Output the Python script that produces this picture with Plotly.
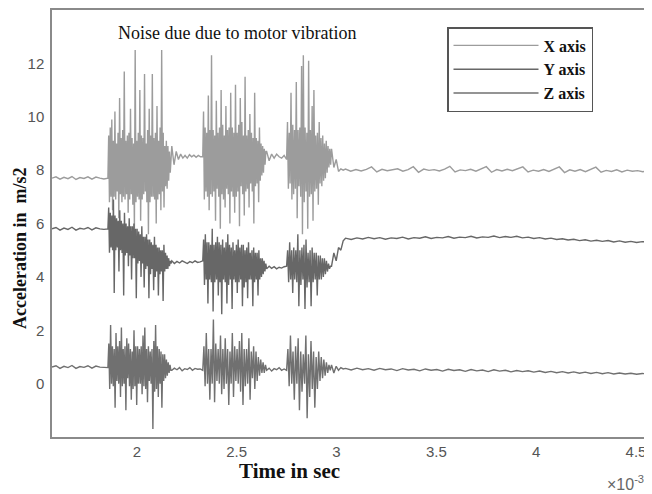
import numpy as np
import plotly.graph_objects as go

# ---- time segment boundaries (seconds) ----
seg_bounds = [1.575e-3, 1.855e-3, 2.175e-3, 2.33e-3, 2.65e-3, 2.75e-3, 2.975e-3, 3.045e-3, 4.56e-3]

# ---- X axis series (m/s^2) ----
x_pre = [7.70, 7.75, 7.66, 7.73, 7.68, 7.76, 7.65, 7.72, 7.69, 7.75, 7.66, 7.74, 7.70, 7.67]
x_b1 = [7.7, 9.3, 6.8, 9.6, 7.0, 9.9, 6.5, 9.1, 7.0, 10.2, 6.9, 9.0, 7.2, 9.4, 6.2, 10.7, 7.1, 9.2,
        6.8, 9.5, 7.0, 11.7, 6.9, 9.1, 7.1, 9.3, 6.4, 9.4, 6.9, 10.3, 7.1, 9.2, 6.7, 9.0, 5.8, 12.5,
        6.8, 9.1, 7.0, 9.4, 6.9, 11.0, 6.1, 9.3, 6.9, 9.2, 7.1, 11.6, 7.2, 9.0, 6.8, 9.5, 5.6, 10.3,
        6.8, 9.3, 7.0, 11.6, 7.0, 9.2, 6.9, 9.4, 6.0, 10.4, 6.9, 9.1, 7.1, 9.6, 6.5, 12.5, 7.2, 9.4,
        6.6, 8.9, 7.4, 9.1, 7.3, 8.9, 7.6, 8.7, 7.9, 8.6]
x_q1 = [8.9, 8.2, 8.7, 8.4, 8.6, 8.45, 8.55, 8.45, 8.58, 8.5, 8.56, 8.48, 8.55, 8.5]
x_b2 = [8.5, 10.2, 6.9, 9.6, 7.2, 9.4, 7.0, 10.8, 6.5, 9.5, 7.1, 12.3, 7.0, 9.5, 7.2, 9.3, 6.1, 10.6,
        7.3, 9.4, 7.0, 9.6, 5.8, 11.0, 7.1, 9.7, 6.9, 9.3, 6.6, 10.4, 7.3, 9.5, 7.1, 9.6, 6.0, 10.9,
        7.2, 9.6, 7.0, 9.4, 6.4, 11.2, 7.0, 9.4, 7.2, 9.7, 5.9, 10.7, 7.4, 9.8, 7.1, 9.3, 6.3, 11.5,
        7.2, 9.3, 7.3, 9.5, 6.6, 10.1, 7.5, 9.4, 7.2, 9.2, 6.0, 10.9, 7.4, 9.2, 7.5, 9.1, 6.8, 9.6,
        7.6, 9.0, 7.8, 8.9, 7.9, 8.8, 8.2, 8.7]
x_q2 = [8.7, 8.35, 8.6, 8.45, 8.6, 8.5, 8.45, 8.55]
x_b3 = [8.4, 9.8, 7.3, 9.4, 7.5, 10.9, 6.9, 9.7, 7.1, 9.5, 7.3, 11.3, 6.2, 9.5, 7.4, 9.6, 7.0, 11.9,
        5.6, 12.3, 6.8, 9.6, 7.2, 9.4, 5.8, 12.1, 7.0, 9.5, 7.1, 10.4, 6.1, 11.0, 7.2, 9.3, 7.3, 9.4,
        6.7, 9.8, 7.5, 9.2, 7.4, 9.3, 7.6, 9.0, 7.7, 9.1, 7.9, 8.9, 8.1, 8.8, 8.2]
x_tr = [8.8, 8.1, 8.4, 7.95, 8.05, 8.0]
x_post = [8.04, 7.96, 8.02, 7.97, 8.03, 8.12, 7.93, 8.03, 7.98, 8.01, 8.05, 7.96, 8.02, 8.13, 7.92,
          8.04, 7.99, 8.02, 7.97, 8.04, 8.14, 7.93, 8.01, 7.98, 8.03, 7.96, 8.03, 8.13, 7.92, 8.02,
          7.97, 8.03, 7.98, 8.04, 8.12, 7.93, 8.00, 7.96, 8.02, 7.95, 8.03, 8.12, 7.91, 8.01, 7.96,
          8.02, 7.94, 8.01, 8.11, 7.92, 7.99, 7.95, 8.01, 7.93, 8.00, 7.96, 7.98, 7.94, 7.97]

# ---- Y axis series ----
y_pre = [5.80, 5.85, 5.75, 5.83, 5.78, 5.86, 5.75, 5.82, 5.79, 5.85, 5.76, 5.84, 5.80, 5.78]
y_b1 = [5.8, 6.6, 4.9, 6.4, 5.1, 6.3, 5.0, 6.9, 3.4, 6.3, 5.0, 6.2, 5.1, 6.1, 4.2, 6.5, 5.0, 6.1,
        4.9, 6.0, 3.3, 6.4, 4.8, 6.0, 4.9, 5.9, 4.4, 6.2, 4.8, 5.9, 3.9, 5.9, 4.7, 6.0, 4.7, 5.8,
        3.2, 5.8, 4.5, 5.7, 4.6, 5.6, 4.0, 5.9, 4.5, 5.5, 3.6, 5.5, 4.3, 5.6, 4.4, 5.4, 3.2, 5.4,
        4.1, 5.3, 4.3, 5.2, 3.5, 5.5, 4.0, 5.2, 4.2, 5.1, 3.3, 5.1, 4.1, 5.0, 4.2, 5.0, 3.1, 5.2,
        4.2, 4.9, 4.3, 4.8, 4.3, 4.7, 4.4, 4.6, 4.5]
y_q1 = [4.6, 4.5, 4.58, 4.52, 4.6, 4.55, 4.5, 4.57, 4.53, 4.6, 4.54, 4.56]
y_b2 = [4.6, 5.4, 3.7, 5.6, 3.9, 5.3, 3.0, 5.3, 3.9, 5.2, 3.8, 5.8, 2.7, 5.2, 3.8, 5.3, 3.9, 5.5,
        3.3, 5.3, 3.8, 5.2, 2.6, 5.4, 3.9, 5.1, 3.8, 5.3, 3.0, 5.6, 3.7, 5.2, 3.9, 5.1, 2.8, 5.3,
        3.9, 5.0, 3.8, 5.2, 3.4, 5.4, 3.8, 5.1, 3.9, 5.2, 2.9, 5.2, 3.6, 5.0, 3.8, 5.1, 3.2, 5.3,
        3.9, 4.9, 3.9, 5.0, 2.9, 5.1, 3.8, 4.9, 3.9, 4.9, 3.3, 5.0, 3.9, 4.7, 4.0, 4.7, 4.1, 4.6,
        4.2, 4.5]
y_q2 = [4.3, 4.4, 4.32, 4.38, 4.3, 4.36, 4.33, 4.38]
y_b3 = [4.4, 5.0, 3.8, 5.3, 3.9, 5.0, 3.4, 5.1, 3.9, 5.0, 3.8, 5.6, 2.9, 5.0, 3.7, 5.1, 3.9, 5.2,
        2.8, 5.4, 3.6, 4.9, 3.8, 5.0, 2.9, 5.1, 3.8, 4.9, 3.9, 4.9, 3.3, 4.8, 3.9, 4.8, 3.9, 4.7,
        4.0, 4.7, 4.1, 4.6, 4.2, 4.5, 4.3, 4.4]
y_tr = [4.4, 4.9, 4.6, 5.1, 5.0, 5.35]
y_post = [5.45, 5.40, 5.46, 5.42, 5.48, 5.43, 5.47, 5.41, 5.46, 5.44, 5.49, 5.42, 5.47, 5.45, 5.50,
          5.44, 5.48, 5.46, 5.51, 5.45, 5.49, 5.47, 5.52, 5.46, 5.50, 5.48, 5.53, 5.47, 5.51, 5.48,
          5.52, 5.46, 5.49, 5.44, 5.47, 5.42, 5.45, 5.40, 5.43, 5.38, 5.41, 5.36, 5.39, 5.34, 5.37,
          5.33, 5.36, 5.31, 5.35, 5.30, 5.33, 5.29, 5.32, 5.30]

# ---- Z axis series ----
z_pre = [0.62, 0.67, 0.57, 0.65, 0.60, 0.68, 0.57, 0.64, 0.61, 0.67, 0.58, 0.66, 0.62, 0.60]
z_b1 = [0.6, 1.5, -0.2, 2.2, 0.0, 1.4, -0.1, 1.3, -0.9, 1.9, 0.1, 1.4, 0.0, 1.6, -0.5, 2.1, -0.1, 1.3,
        0.0, 1.4, -1.0, 1.7, 0.2, 1.5, -0.1, 1.3, -0.6, 1.2, -0.2, 2.0, -0.1, 1.4, -0.8, 1.4, 0.0, 1.3,
        0.0, 1.4, -0.4, 1.8, -0.1, 2.1, -0.2, 1.3, -0.7, 1.4, 0.1, 1.2, 0.0, 1.3, -1.7, 1.6, -0.3, 2.2,
        -0.2, 1.4, -0.5, 1.3, 0.0, 1.2, -0.9, 1.1, 0.1, 1.1, 0.2, 0.9, 0.3, 0.8, 0.4, 0.7, 0.5]
z_q1 = [0.50, 0.58, 0.52, 0.60, 0.48, 0.56, 0.53, 0.60, 0.50, 0.57, 0.54, 0.55]
z_b2 = [0.5, 1.4, -0.1, 1.9, 0.0, 1.3, -0.6, 1.3, 0.0, 2.4, -0.7, 1.5, 0.1, 1.3, 0.0, 1.8, -0.4, 1.3,
        -0.2, 1.7, 0.0, 1.3, -0.8, 1.2, 0.0, 1.9, -0.5, 1.4, 0.1, 1.3, 0.0, 1.6, -0.3, 1.9, -0.8, 1.3,
        -0.1, 1.3, 0.0, 1.7, -0.6, 1.2, 0.2, 1.4, -0.2, 1.2, 0.1, 1.0, 0.3, 0.9, 0.4, 0.8, 0.4, 0.7]
z_q2 = [0.50, 0.58, 0.47, 0.56, 0.52, 0.60, 0.50, 0.55]
z_b3 = [0.5, 1.3, -0.1, 1.8, 0.0, 1.2, -0.6, 1.4, 0.0, 1.7, -1.0, 1.2, -0.3, 1.1, 0.0, 1.8, -1.3, 1.1,
        -0.5, 1.6, -0.2, 1.2, -0.9, 1.0, -0.2, 1.2, 0.1, 1.0, 0.2, 0.9, 0.3, 0.8, 0.4, 0.7, 0.5]
z_tr = [0.7, 0.4, 0.65, 0.5, 0.6, 0.55]
z_post = [0.57, 0.51, 0.58, 0.52, 0.56, 0.50, 0.57, 0.52, 0.55, 0.49, 0.56, 0.51, 0.54, 0.48, 0.55,
          0.50, 0.53, 0.47, 0.54, 0.49, 0.52, 0.46, 0.53, 0.48, 0.51, 0.45, 0.52, 0.47, 0.50, 0.44,
          0.49, 0.45, 0.48, 0.43, 0.47, 0.42, 0.46, 0.41, 0.45, 0.40, 0.44, 0.39, 0.43, 0.38, 0.42,
          0.37, 0.41, 0.36, 0.40, 0.36, 0.39, 0.35, 0.38, 0.36]

series_names = ["X axis", "Y axis", "Z axis"]
series_segments = [
    [x_pre, x_b1, x_q1, x_b2, x_q2, x_b3, x_tr, x_post],
    [y_pre, y_b1, y_q1, y_b2, y_q2, y_b3, y_tr, y_post],
    [z_pre, z_b1, z_q1, z_b2, z_q2, z_b3, z_tr, z_post],
]
series_colors = ["#9c9c9c", "#676767", "#707070"]

x_tickvals = [0.002, 0.0025, 0.003, 0.0035, 0.004, 0.0045]
x_ticktext = ["2", "2.5", "3", "3.5", "4", "4.5"]
y_tickvals = [0, 2, 4, 6, 8, 10, 12]


def build(segments):
    ts, vs = [], []
    n = len(segments)
    for i, seg in enumerate(segments):
        last = i == n - 1
        t = np.linspace(seg_bounds[i], seg_bounds[i + 1], len(seg), endpoint=last)
        ts.extend(t.tolist())
        vs.extend(seg)
    return ts, vs


fig = go.Figure()
for name, segs, col in zip(series_names, series_segments, series_colors):
    t, v = build(segs)
    fig.add_trace(go.Scatter(x=t, y=v, mode="lines", name=name,
                             line=dict(color=col, width=1.4)))

serif = "Liberation Serif, Times New Roman, serif"
sans = "Liberation Sans, Arial, sans-serif"

# page body adds an 8px offset; layout below works in window pixels minus that offset
OFF = 8
FW, FH = 652 - OFF, 494 - OFF
L, R, T, B = 52 - OFF, 648 - OFF, 10 - OFF, 437 - OFF
W, H = R - L, B - T


def px(x):
    return (x - OFF - L) / W


def py(y):
    return (B - (y - OFF)) / H


fig.update_layout(
    width=FW, height=FH,
    margin=dict(l=L, r=FW - R, t=T, b=FH - B, pad=0, autoexpand=False),
    paper_bgcolor="white", plot_bgcolor="white",
    showlegend=True,
    legend=dict(
        x=px(447), y=py(27), xanchor="left", yanchor="top",
        bgcolor="white", bordercolor="#555", borderwidth=1.5,
        font=dict(family=serif, size=16, color="#111", weight="bold"),
        itemwidth=85, tracegroupgap=0,
    ),
    xaxis=dict(
        range=[1.575e-3, 4.56e-3], tickvals=x_tickvals, ticktext=x_ticktext,
        showgrid=False, zeroline=False, showline=True, mirror=True, automargin=False,
        linecolor="#8a8a8a", linewidth=1.5, ticks="",
        tickfont=dict(family=sans, size=15, color="#555"),
    ),
    yaxis=dict(
        range=[-2, 14], tickvals=y_tickvals,
        showgrid=False, zeroline=False, showline=True, mirror=True, automargin=False,
        linecolor="#8a8a8a", linewidth=1.5, ticks="",
        tickfont=dict(family=sans, size=15, color="#555"), ticklabelstandoff=3,
    ),
    annotations=[
        dict(text="Noise due due to motor vibration", xref="paper", yref="paper",
             x=px(237), y=py(33), xanchor="center", yanchor="middle",
             showarrow=False, font=dict(family=serif, size=18, color="#111")),
        dict(text="Time in sec", xref="paper", yref="paper",
             x=px(289), y=py(471), xanchor="center", yanchor="middle",
             showarrow=False, font=dict(family=serif, size=21, color="#111", weight="bold")),
        dict(text="Acceleration in  m/s2", xref="paper", yref="paper", textangle=-90,
             x=px(20), y=py(249), xanchor="center", yanchor="middle",
             showarrow=False, font=dict(family=serif, size=18, color="#111", weight="bold")),
        dict(text="×10<sup>-3</sup>", xref="paper", yref="paper",
             x=px(646), y=py(483), xanchor="right", yanchor="middle",
             showarrow=False, font=dict(family=sans, size=16, color="#666")),
    ],
)

fig.write_html("out.html")
